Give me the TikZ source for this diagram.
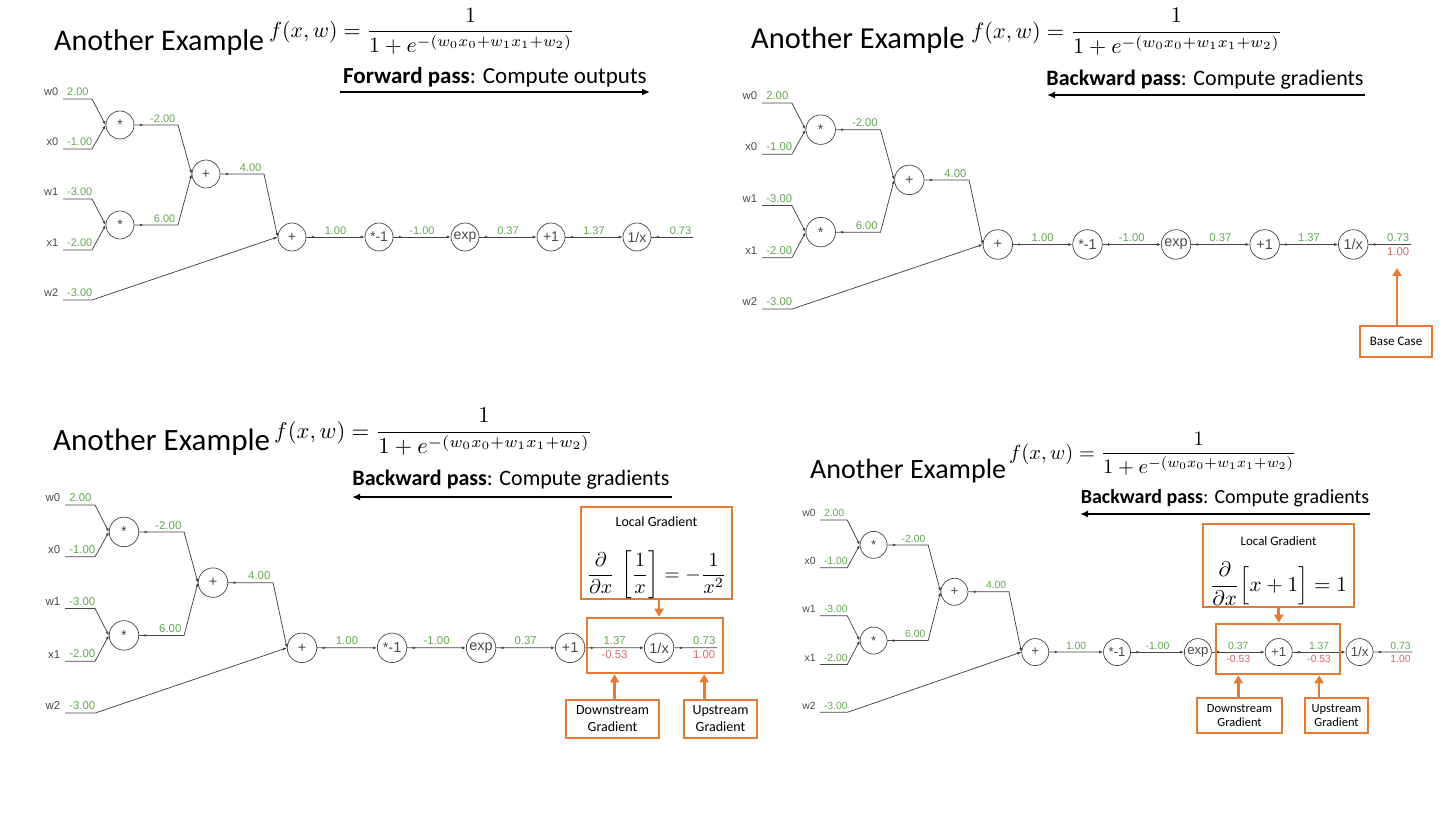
\documentclass[tikz,border=0pt]{standalone}
\usepackage{fontspec}
\setmainfont{Carlito}
\newfontfamily\gf{Liberation Sans}
\usetikzlibrary{arrows.meta,decorations.markings}
\definecolor{gval}{HTML}{63A852}
\definecolor{rval}{HTML}{D9696A}
\definecolor{lgray}{HTML}{454545}
\definecolor{tgray}{HTML}{4A4A4A}
\definecolor{orng}{HTML}{E57A34}
\def\vfs{11}\def\ofs{14}\def\cdia{28}
\newcommand\fwx{$\displaystyle f(x,w)=\frac{1}{1+e^{-(w_0x_0+w_1x_1+w_2)}}$}
\tikzset{
 op/.style={circle, draw=lgray, line width=0.7pt, minimum size=\cdia pt, inner sep=0pt, font=\gf\fontsize{\ofs}{\ofs}\selectfont, text=tgray, fill=white},
 lab/.style={anchor=south east, inner sep=0.5pt, font=\gf\fontsize{\vfs}{\vfs}\selectfont, text=tgray},
 vl/.style={anchor=south west, inner sep=0.5pt, font=\gf\fontsize{\vfs}{\vfs}\selectfont, text=gval},
 cv/.style={anchor=south, inner sep=2.5pt, font=\gf\fontsize{\vfs}{\vfs}\selectfont, text=gval},
 kv/.style={anchor=south east, inner sep=2.5pt, font=\gf\fontsize{\vfs}{\vfs}\selectfont, text=gval},
 gr/.style={anchor=north, inner sep=2.5pt, font=\gf\fontsize{\vfs}{\vfs}\selectfont, text=rval},
 conn/.style={color=lgray, line width=0.75pt, -{Latex[length=4pt,width=3pt]}},
 plain/.style={color=lgray, line width=0.75pt},
 marr/.style={postaction={decorate}, decoration={markings, mark=at position 9pt with {\arrow{Latex[length=3.5pt,width=2.8pt]}}}},
 ttl/.style={anchor=base west, inner sep=0pt, text=black},
 frm/.style={anchor=base west, inner sep=0pt},
 sub/.style={inner sep=0pt, text=black},
 barr/.style={line width=2.2pt, -{Latex[length=8pt,width=7pt]}},
 obox/.style={draw=orng, line width=2.6pt, inner sep=0pt},
 oarr/.style={draw=orng, line width=2.6pt, -{Triangle[length=8pt,width=9pt]}},
}
\newcommand\cgraph[5]{%
\begin{scope}[shift={(#2,#3)},xscale=#4,yscale=#5,name prefix=#1-]
\coordinate (w0a) at (0,0); \coordinate (w0b) at (29,0);
\coordinate (x0a) at (0,50); \coordinate (x0b) at (29,50);
\coordinate (w1a) at (0,100); \coordinate (w1b) at (29,100);
\coordinate (x1a) at (0,151); \coordinate (x1b) at (29,151);
\coordinate (w2a) at (0,201); \coordinate (w2b) at (29,201);
\coordinate (c1) at (115,26); \coordinate (c2) at (115,126);
\coordinate (c3) at (201,75); \coordinate (oute) at (630,138);
\node[op] (mul1) at (57,26) {*};
\node[op] (mul2) at (57,126) {*};
\node[op] (add1) at (143,75) {+};
\node[op] (add2) at (229,138) {+};
\node[op] (neg) at (316,138) {*-1};
\node[op] (exp) at (402,138) {exp};
\node[op] (p1) at (488,138) {+1};
\node[op] (inv) at (574,138) {1/x};
\node[lab] (lw0) at (-4,-2.5) {w0};
\node[lab] (lx0) at (-4,47.5) {x0};
\node[lab] (lw1) at (-4,97.5) {w1};
\node[lab] (lx1) at (-4,148.5) {x1};
\node[lab] (lw2) at (-4,198.5) {w2};
\node[vl] (vw0) at (3.5,-2.5) {2.00};
\node[vl] (vx0) at (3.5,47.5) {-1.00};
\node[vl] (vw1) at (3.5,97.5) {-3.00};
\node[vl] (vx1) at (3.5,148.5) {-2.00};
\node[vl] (vw2) at (3.5,198.5) {-3.00};
\draw[conn] (w0a) -- (w0b) -- (mul1.west);
\draw[conn] (x0a) -- (x0b) -- (mul1.west);
\draw[conn] (w1a) -- (w1b) -- (mul2.west);
\draw[conn] (x1a) -- (x1b) -- (mul2.west);
\draw[conn] (w2a) -- (w2b) -- (add2.west);
\draw[conn,marr] (mul1) -- (c1) -- (add1.west);
\draw[conn,marr] (mul2) -- (c2) -- (add1.west);
\draw[conn,marr] (add1) -- (c3) -- (add2.west);
\node[kv] (k1) at (c1) {-2.00};
\node[kv] (k2) at (c2) {6.00};
\node[kv] (k3) at (c3) {4.00};
\draw[conn,marr] (add2) -- node[cv] (v1) {1.00} (neg);
\draw[conn,marr] (neg) -- node[cv] (v2) {-1.00} (exp);
\draw[conn,marr] (exp) -- node[cv] (v3) {0.37} (p1);
\draw[conn,marr] (p1) -- node[cv] (v4) {1.37} (inv);
\draw[plain,marr] (inv) -- node[cv,pos=0.7] (v5) {0.73} (oute);
\end{scope}}
\begin{document}
\begin{tikzpicture}[x=1pt,y=-1pt]
\useasboundingbox[fill=white] (0,0) rectangle (1448,814);

% ---------- Panel A ----------
\node[ttl, font=\fontsize{30}{36}\selectfont] (tA) at (54,50) {Another Example};
\node[frm] (fA) at (269,37) {\scalebox{2.18}{\fwx}};
\node[sub, font=\fontsize{23}{27}\selectfont] (sA) at (495,77) {\textbf{Forward pass}: Compute outputs};
\coordinate (aA1) at (340,92); \coordinate (aA2) at (650,92);
\draw[barr] (aA1) -- (aA2);
\def\vfs{11}\def\ofs{14}\def\cdia{28}
\cgraph{A}{63}{99}{1}{1}

% ---------- Panel B ----------
\node[ttl, font=\fontsize{30.5}{36}\selectfont] (tB) at (751,48) {Another Example};
\node[frm] (fB) at (971,38) {\scalebox{2.22}{\fwx}};
\node[sub, font=\fontsize{22}{26}\selectfont] (sB) at (1205,80) {\textbf{Backward pass}: Compute gradients};
\coordinate (aB1) at (1365,95); \coordinate (aB2) at (1047,95);
\draw[barr] (aB1) -- (aB2);
\def\vfs{11.3}\def\ofs{14.4}\def\cdia{29.5}
\cgraph{B}{762}{103}{1.03}{1.025}
\path (B-inv) -- node[gr,pos=0.7] (B-g) {1.00} (B-oute);
\node[obox, font=\fontsize{13}{15}\selectfont, minimum width=72pt, minimum height=31pt] (base) at (1396,341.5) {Base Case};
\coordinate (Btip) at (1397,268);
\draw[oarr] (base.north -| Btip) -- (Btip);

% ---------- Panel C ----------
\node[ttl, font=\fontsize{31}{36}\selectfont] (tC) at (53,450) {Another Example};
\node[frm] (fC) at (274,438) {\scalebox{2.27}{\fwx}};
\node[sub, font=\fontsize{22}{26}\selectfont] (sC) at (511,480) {\textbf{Backward pass}: Compute gradients};
\coordinate (aC1) at (672,497); \coordinate (aC2) at (352,497);
\draw[barr] (aC1) -- (aC2);
\def\vfs{11.4}\def\ofs{14.5}\def\cdia{29.5}
\cgraph{C}{65}{505}{1.035}{1.035}
\path (C-p1) -- node[gr] (C-g1) {-0.53} (C-inv);
\path (C-inv) -- node[gr,pos=0.7] (C-g2) {1.00} (C-oute);
\node[obox, minimum width=151pt, minimum height=92pt] (Cloc) at (656.5,553) {};
\node[inner sep=0pt, font=\fontsize{14}{16}\selectfont] (Cltx) at (656.5,522) {Local Gradient};
\node[inner sep=0pt] (Cfrm) at (656.5,575) {\scalebox{2.0}{$\displaystyle\frac{\partial}{\partial x}\,\left[\frac{1}{x}\right]=-\frac{1}{x^2}$}};
\node[obox, minimum width=136pt, minimum height=55pt] (Cin) at (655,645.5) {};
\node[obox, align=center, font=\fontsize{14}{17}\selectfont, minimum width=93pt, minimum height=38pt] (Cdn) at (612.5,719) {Downstream\\Gradient};
\node[obox, align=center, font=\fontsize{14}{17}\selectfont, minimum width=73pt, minimum height=38pt] (Cup) at (720.5,719) {Upstream\\Gradient};
\draw[oarr] (Cloc.south -| C-inv) -- (Cin.north -| C-inv);
\draw[oarr] (Cdn.north -| C-g1) -- (Cin.south -| C-g1);
\draw[oarr] (Cup.north -| C-g2) -- (Cin.south -| C-g2);

% ---------- Panel D ----------
\node[ttl, font=\fontsize{28}{34}\selectfont] (tD) at (810,478) {Another Example};
\node[frm] (fD) at (1009,459) {\scalebox{2.05}{\fwx}};
\node[sub, font=\fontsize{20}{24}\selectfont] (sD) at (1225,498) {\textbf{Backward pass}: Compute gradients};
\coordinate (aD1) at (1370,514); \coordinate (aD2) at (1080,514);
\draw[barr] (aD1) -- (aD2);
\def\vfs{10.4}\def\ofs{13.2}\def\cdia{27}
\cgraph{D}{820}{520}{0.94}{0.957}
\path (D-exp) -- node[gr] (D-g1) {-0.53} (D-p1);
\path (D-p1) -- node[gr] (D-g2) {-0.53} (D-inv);
\path (D-inv) -- node[gr,pos=0.7] (D-g3) {1.00} (D-oute);
\node[obox, minimum width=151pt, minimum height=83pt] (Dloc) at (1278.5,565.5) {};
\node[inner sep=0pt, font=\fontsize{13}{15}\selectfont] (Dltx) at (1278.5,541) {Local Gradient};
\node[inner sep=0pt] (Dfrm) at (1278.5,584) {\scalebox{2.12}{$\displaystyle\frac{\partial}{\partial x}\Big[x+1\Big]=1$}};
\node[obox, minimum width=124pt, minimum height=50pt] (Din) at (1278,649) {};
\node[obox, align=center, font=\fontsize{12.5}{14.5}\selectfont, minimum width=85pt, minimum height=35pt] (Ddn) at (1239.5,715.5) {Downstream\\Gradient};
\node[obox, align=center, font=\fontsize{12.5}{14.5}\selectfont, minimum width=63pt, minimum height=35pt] (Dup) at (1336.5,715.5) {Upstream\\Gradient};
\draw[oarr] (Dloc.south -| D-p1) -- (Din.north -| D-p1);
\draw[oarr] (Ddn.north -| D-g1) -- (Din.south -| D-g1);
\draw[oarr] (Dup.north -| D-g2) -- (Din.south -| D-g2);
\end{tikzpicture}
\end{document}
